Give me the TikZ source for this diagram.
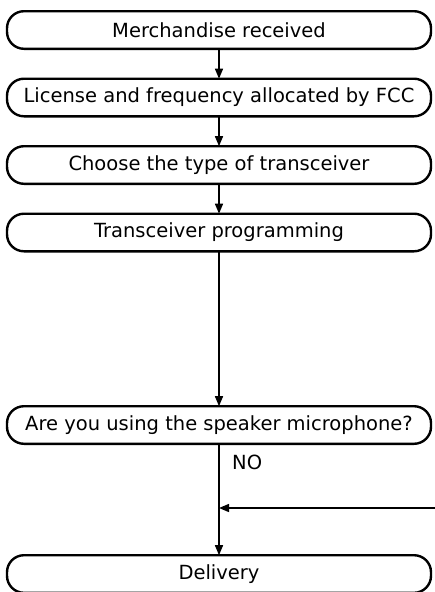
\documentclass[tikz,border=0pt]{standalone}
\usepackage{fontspec}
\setmainfont{DejaVu Sans}
\usetikzlibrary{positioning,arrows.meta}
\tikzset{%
  stage/.style={
    draw,
    line width=2.4pt,
    rounded corners=17pt,
    minimum width=424pt,
    minimum height=37.6pt,
    inner sep=0pt,
    outer sep=0pt
  },
  flow/.style={
    line width=1.4pt,
    -{Triangle[length=10pt,width=8pt]}
  },
}

\begin{document}
\begin{tikzpicture}[node distance=29.9pt,font=\fontsize{19.5}{23}\selectfont]
  \useasboundingbox (0,0) rectangle (435pt,-592pt);

  \node[stage] (recv) at (219pt,-30pt) {Merchandise received};
  \node[stage,below=of recv] (fcc) {License and frequency allocated by FCC};
  \node[stage,below=of fcc] (type) {Choose the type of transceiver};
  \node[stage,below=of type] (prog) {Transceiver programming};
  \node[stage,below=154.9pt of prog] (mic) {Are you using the speaker microphone?};
  \node[stage,below=111.4pt of mic] (deliv) {Delivery};

  \node[below right=9pt and 11pt of mic.south,inner sep=2pt] (no) {NO};
  \coordinate (ret) at (435pt,-508pt);

  \draw[flow] (recv) -- (fcc);
  \draw[flow] (fcc) -- (type);
  \draw[flow] (type) -- (prog);
  \draw[flow] (prog) -- (mic);
  \draw[flow] (mic) -- (deliv);
  \draw[flow] (ret) -- (ret -| mic.south);
\end{tikzpicture}
\end{document}
